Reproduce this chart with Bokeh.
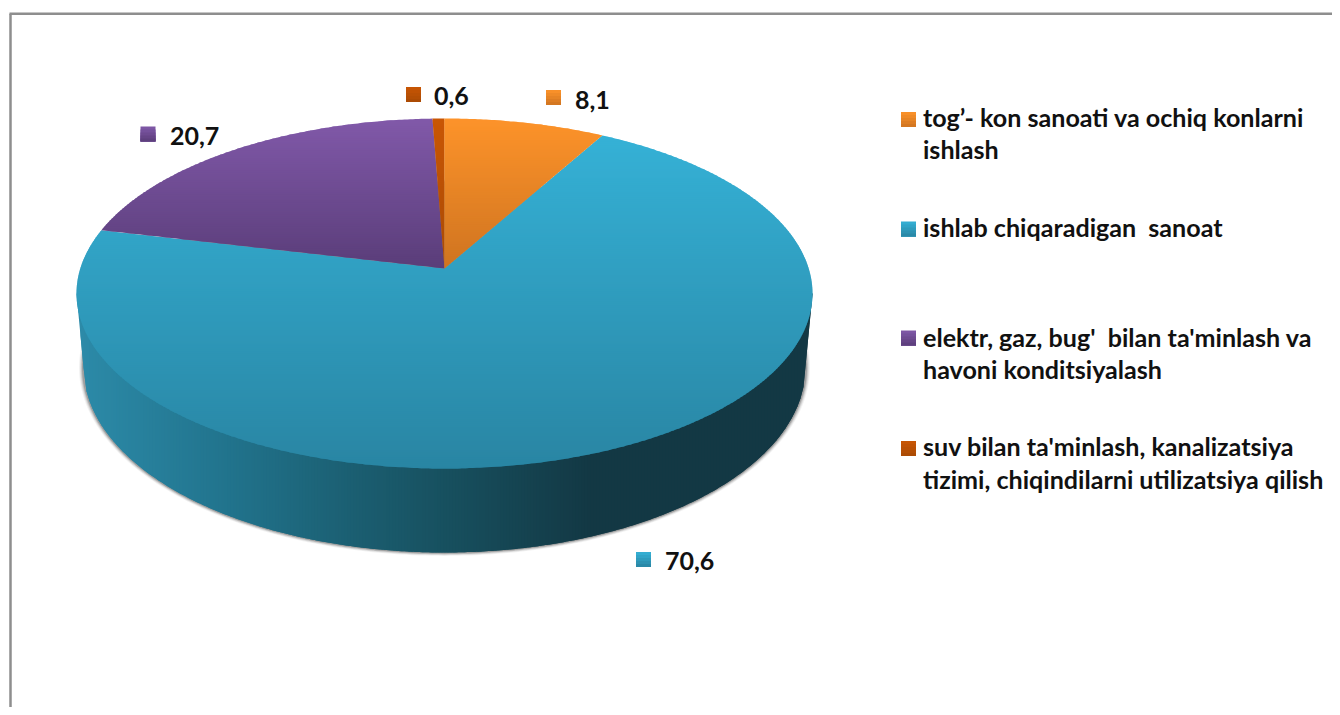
from bokeh.plotting import figure
from bokeh.embed import file_html
from bokeh.resources import INLINE
from bokeh.core.properties import value
import numpy as np

# ---- data ----
categories = ["tog’- kon sanoati va ochiq konlarni ishlash",
              "ishlab chiqaradigan  sanoat",
              "elektr, gaz, bug'  bilan ta'minlash va havoni konditsiyalash",
              "suv bilan ta'minlash, kanalizatsiya tizimi, chiqindilarni utilizatsiya qilish"]
values = [8.1, 70.6, 20.7, 0.6]
value_labels = ["8,1", "70,6", "20,7", "0,6"]
legend_lines = [["tog’- kon sanoati va ochiq konlarni", "ishlash"],
                ["ishlab chiqaradigan \u00a0sanoat"],
                ["elektr, gaz, bug' \u00a0bilan ta'minlash va", "havoni konditsiyalash"],
                ["suv bilan ta'minlash, kanalizatsiya", "tizimi, chiqindilarni utilizatsiya qilish"]]
colors_top = ["#fd932a", "#35b1d6", "#8159a9", "#c95604"]
colors_bottom = ["#cf7420", "#2985a3", "#5a3d79", "#a94a04"]

# ---- layout ----
W, H = 1332, 707
OX, OY = 0, 0
CX, APEX_Y = 444, 268
TOP_Y, BOT_Y, RX = 118, 468, 368
SIDE_CY, SIDE_RY, SIDE_RX = 367, 185, 361
label_marks = [(553, 97), (643, 559), (147.5, 133.5), (413, 94)]
label_text_x = [574.5, 664.5, 169.5, 433.5]
label_text_y = [99, 560, 135, 95]
legend_mark_y = [119, 228.5, 337.5, 448]
legend_text_y = [[116, 148], [226], [336, 368], [445, 478]]
LEG_MARK_X, LEG_TEXT_X = 908, 922.5
FONT, LEG_SIZE, LBL_SIZE = "Lato", "25.1px", "25px"

up, down = APEX_Y - TOP_Y, BOT_Y - APEX_Y
k = (down - up) / (down + up)
a = up * (1 + k)
b = RX * np.sqrt(1 - k * k)


def project(deg):
    t = np.radians(deg)
    x, y = np.sin(t), np.cos(t)
    d = 1 + k * y
    return CX + b * x / d, APEX_Y - a * y / d


def clip(poly, y0, y1):
    def half(pts, keep, cross):
        out = []
        n = len(pts)
        for i in range(n):
            p, q = pts[i], pts[(i + 1) % n]
            kp, kq = keep(p), keep(q)
            if kp:
                out.append(p)
            if kp != kq:
                s = (cross - p[1]) / (q[1] - p[1])
                out.append((p[0] + s * (q[0] - p[0]), cross))
        return out
    pts = half(poly, lambda p: p[1] >= y0, y0)
    if pts:
        pts = half(pts, lambda p: p[1] <= y1, y1)
    return pts


def mix(c0, c1, s):
    s = float(min(1, max(0, s)))
    v0 = [int(c0[i:i + 2], 16) for i in (1, 3, 5)]
    v1 = [int(c1[i:i + 2], 16) for i in (1, 3, 5)]
    return "#%02x%02x%02x" % tuple(int(round(u + (w - u) * s)) for u, w in zip(v0, v1))


p = figure(width=W, height=H, x_range=(OX, OX + W), y_range=(OY + H, OY),
           output_backend="svg", toolbar_location=None, min_border=0,
           outline_line_color=None, background_fill_color="white",
           border_fill_color="white")
p.axis.visible = False
p.grid.visible = False

# frame
p.segment([10, 9], [13.2, 13.2], [10, OX + W], [OY + H, 13.2], line_color="#8e8e8e", line_width=2.5)

# soft shadow under the side
th = np.linspace(0, 2 * np.pi, 361)
for g, al in [(4.5, .05), (3.5, .08), (2.5, .12), (1.5, .18)]:
    p.patch(CX + (SIDE_RX + g) * np.cos(th), SIDE_CY + (SIDE_RY + g * .75) * np.sin(th),
            fill_color="black", fill_alpha=al, line_color=None)

# side wall: horizontal gradient
stops_x = [80, 230, 350, 445, 590, 810]
stops_c = ["#2c8aa8", "#21738c", "#1b5f72", "#17505f", "#133844", "#133844"]


def side_color(x):
    i = int(np.clip(np.searchsorted(stops_x, x) - 1, 0, len(stops_x) - 2))
    return mix(stops_c[i], stops_c[i + 1], (x - stops_x[i]) / (stops_x[i + 1] - stops_x[i]))


def side_bottom(x):
    lx = CX - SIDE_RX
    rx = CX + SIDE_RX
    if x <= lx or x >= rx:
        e0, e1 = (CX - RX, lx) if x <= lx else (CX + RX, rx)
        s = (x - e0) / (e1 - e0)
        return 293 + s * (SIDE_CY - 293)
    return SIDE_CY + SIDE_RY * np.sqrt(max(0, 1 - ((x - CX) / SIDE_RX) ** 2))


sx, sy, sc = [], [], []
edges = np.concatenate([[CX - RX, CX - SIDE_RX - 3], np.arange(CX - SIDE_RX, CX + SIDE_RX + 1, 3.0),
                        [CX + RX]])
for n_, (x0, x1) in enumerate(zip(edges[:-1], edges[1:])):
    x2 = edges[min(n_ + 2, len(edges) - 1)]  # overlap into the next strip, painted over it
    sx.append([x0, x1, x2, x2, x1, x0])
    sy.append([293, 293, 293, side_bottom(x2), side_bottom(x1), side_bottom(x0)])
    sc.append(side_color((x0 + x1) / 2))
p.patches(sx, sy, fill_color=sc, line_color=None)

# top face: one vertical gradient per slice
starts = np.cumsum([0] + values[:-1]) * 3.6
ends = np.cumsum(values) * 3.6
for i in [1, 2, 3, 0]:
    ang = np.arange(starts[i], ends[i], 0.5)
    ang = np.append(ang, ends[i])
    ex, ey = project(ang)
    poly = [(CX, APEX_Y)] + list(zip(ex, ey))
    ylo, yhi = min(q[1] for q in poly), max(q[1] for q in poly)
    xs, ys, cs = [], [], []
    for y0 in np.arange(ylo, yhi, 2.0):
        c = clip(poly, y0, y0 + 3.0)
        if len(c) >= 3:
            xs.append([q[0] for q in c])
            ys.append([q[1] for q in c])
            cs.append(mix(colors_top[i], colors_bottom[i], (y0 + 1 - ylo) / (yhi - ylo)))
    p.patches(xs, ys, fill_color=cs, line_color=None)


def swatch(cx, cy, i, s=15):
    n = 5
    ed = np.linspace(cy - s / 2, cy + s / 2, n + 1)
    cs = [mix(colors_top[i], colors_bottom[i], (j + .5) / n) for j in range(n)]
    # each step runs to the swatch's foot and the next one paints over it: no seams
    p.quad(left=[cx - s / 2] * n, right=[cx + s / 2] * n, top=ed[:-1], bottom=[cy + s / 2] * n,
           fill_color=cs, line_color=None)


# value labels and legend
for i in range(4):
    swatch(label_marks[i][0], label_marks[i][1], i)
    swatch(LEG_MARK_X, legend_mark_y[i], i)

p.text(label_text_x, label_text_y, text=value_labels, text_font=value(FONT),
       text_font_style="bold", text_font_size=LBL_SIZE, text_color="#111111",
       text_baseline="middle", text_align="left")

lx, ly, lt = [], [], []
for lines, ys_ in zip(legend_lines, legend_text_y):
    for t, y in zip(lines, ys_):
        lx.append(LEG_TEXT_X)
        ly.append(y)
        lt.append(t)
p.text(lx, ly, text=lt, text_font=value(FONT), text_font_style="bold",
       text_font_size=LEG_SIZE, text_color="#111111", text_baseline="middle", text_align="left")

open("out.html", "w").write(file_html(p, INLINE))
